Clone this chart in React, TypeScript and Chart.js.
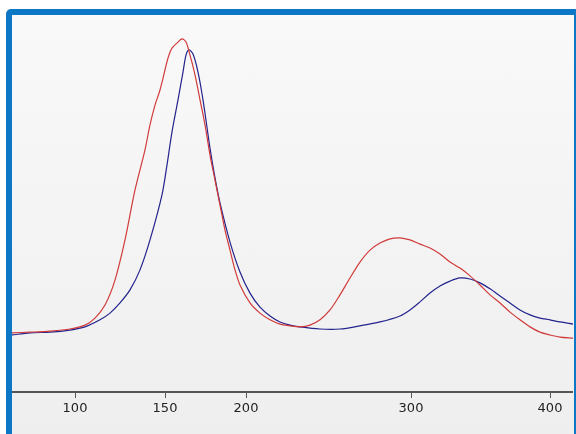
import React, { useEffect, useRef } from "react";
import { Chart, registerables } from "chart.js";

Chart.register(...registerables);

// x positions are instrument channels; tick labels are the calibrated values
const tickChannels = [63, 153, 234, 399, 538];
const tickLabels = ["100", "150", "200", "300", "400"];

const redX = [0, 18, 38, 58, 73, 83, 93, 103, 113, 123, 133, 138, 143, 148, 153, 156, 160, 166, 170, 174, 178, 183, 188, 193, 198, 203, 208, 213, 218, 223, 228, 238, 248, 258, 268, 278, 288, 298, 308, 318, 328, 338, 348, 358, 368, 378, 388, 398, 408, 418, 428, 438, 448, 458, 468, 478, 488, 498, 508, 518, 528, 538, 548, 561];
const redY = [16.8, 17.0, 17.3, 17.9, 19.0, 21.0, 24.7, 31.8, 43.2, 57.4, 68.8, 75.9, 81.5, 85.8, 91.5, 94.9, 97.7, 99.4, 100.3, 99.4, 95.7, 90.1, 83.0, 75.9, 67.3, 60.2, 53.1, 46.0, 40.3, 34.7, 30.4, 25.3, 22.4, 20.5, 19.3, 18.8, 18.5, 19.0, 20.5, 23.3, 27.6, 32.4, 36.9, 40.3, 42.3, 43.5, 43.8, 43.2, 42.0, 40.9, 39.2, 36.9, 35.2, 33.0, 30.4, 27.6, 25.3, 22.7, 20.5, 18.5, 17.0, 16.2, 15.6, 15.3];

const blueX = [0, 18, 38, 58, 73, 88, 98, 108, 118, 128, 138, 150, 155, 160, 166, 171, 174, 177, 181, 186, 191, 198, 203, 208, 218, 228, 238, 248, 258, 268, 278, 288, 308, 328, 348, 368, 388, 398, 408, 418, 428, 438, 448, 458, 468, 478, 488, 498, 508, 518, 528, 538, 548, 561];
const blueY = [16.2, 16.8, 17.0, 17.6, 18.5, 20.5, 22.4, 25.3, 29.0, 34.7, 43.2, 56.0, 64.5, 73.9, 83.0, 90.9, 95.7, 97.2, 96.0, 90.9, 83.0, 69.3, 60.8, 53.7, 42.6, 34.1, 28.1, 24.1, 21.6, 19.9, 19.0, 18.5, 17.9, 17.9, 18.8, 19.9, 21.6, 23.3, 25.6, 28.1, 30.1, 31.5, 32.4, 32.1, 31.0, 29.3, 27.3, 25.3, 23.3, 21.9, 21.0, 20.5, 19.9, 19.3];

const toPoints = (xs: number[], ys: number[]) => xs.map((x, i) => ({ x, y: ys[i] }));

export default function App() {
  const ref = useRef<HTMLCanvasElement | null>(null);
  useEffect(() => {
    if (!ref.current) return;
    const chart = new Chart(ref.current, {
      type: "line",
      data: {
        datasets: [
          {
            data: toPoints(redX, redY),
            borderColor: "#d23a3a",
            borderWidth: 1.2,
            pointRadius: 0,
            tension: 0.3,
            fill: false,
          },
          {
            data: toPoints(blueX, blueY),
            borderColor: "#23238e",
            borderWidth: 1.2,
            pointRadius: 0,
            tension: 0.3,
            fill: false,
          },
        ],
      },
      options: {
        animation: false,
        responsive: false,
        maintainAspectRatio: false,
        layout: { padding: 0 },
        plugins: { legend: { display: false }, tooltip: { enabled: false } },
        scales: {
          x: {
            type: "linear",
            min: 0,
            max: 561,
            afterBuildTicks: (s: any) => {
              s.ticks = tickChannels.map((value) => ({ value }));
            },
            afterFit: (s: any) => {
              s.height = 42;
            },
            ticks: {
              autoSkip: false,
              maxRotation: 0,
              padding: 3,
              color: "#222",
              font: { family: "DejaVu Sans", size: 13 },
              callback: (v: any) => {
                const i = tickChannels.indexOf(Number(v));
                return i >= 0 ? tickLabels[i] : "";
              },
            },
            grid: { drawOnChartArea: false, drawTicks: true, tickLength: 6, tickColor: "#555" },
            border: { display: true, color: "#555", width: 2 },
          },
          y: {
            display: false,
            min: 0,
            max: 107.1,
          },
        },
      },
    });
    return () => chart.destroy();
  }, []);

  return (
    <div style={{ position: "fixed", left: 0, top: 0, width: 576, height: 434, overflow: "hidden", background: "#fff" }}>
      <div
        style={{
          position: "absolute",
          left: 6,
          top: 9,
          width: 562,
          height: 440,
          border: "6px solid #0b77c5",
          borderTopLeftRadius: 5,
          borderTopRightRadius: 5,
          background: "linear-gradient(#f9f9f9, #eeeeee)",
        }}
      >
        <canvas ref={ref} width={561} height={419} style={{ display: "block", width: 561, height: 419 }} />
      </div>
    </div>
  );
}
